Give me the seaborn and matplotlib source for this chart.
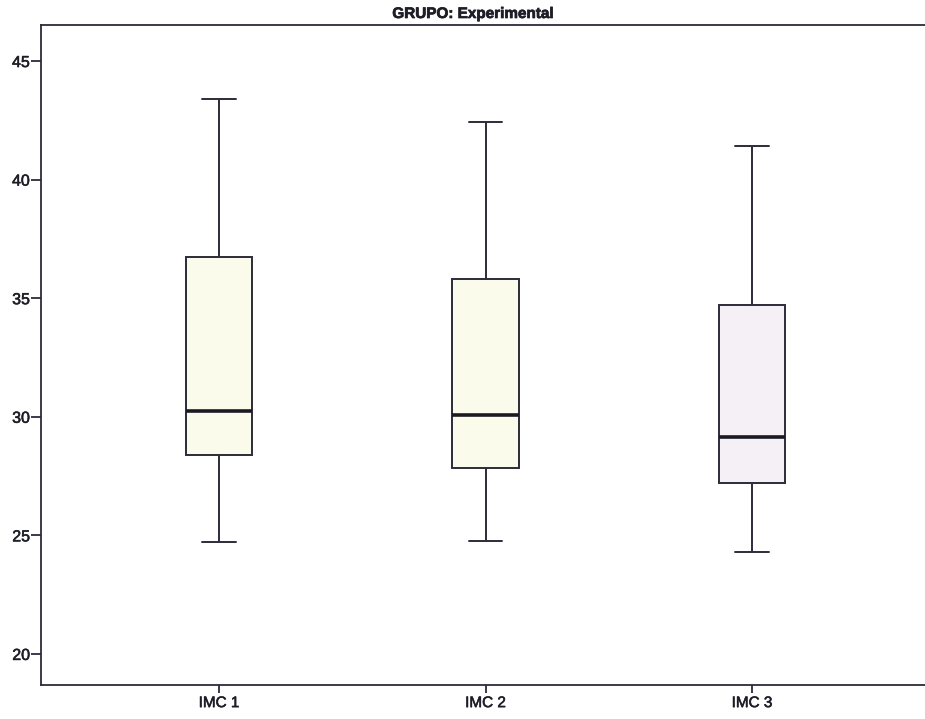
import numpy as np
import pandas as pd
import matplotlib
matplotlib.use("Agg")
import matplotlib.pyplot as plt
import matplotlib.patheffects as pe
import seaborn as sns

# Five-number summaries (min, Q1, median, Q3, max)
categories = ["IMC 1", "IMC 2", "IMC 3"]
imc1 = [24.72, 28.39, 30.24, 36.75, 43.40]
imc2 = [24.76, 27.83, 30.06, 35.80, 42.43]
imc3 = [24.30, 27.22, 29.16, 34.71, 41.42]
box_colors = ["#fbfbec", "#fbfbec", "#f5f0f5"]
yticks = [20, 25, 30, 35, 40, 45]

df = pd.DataFrame({
    "var": [categories[0]] * len(imc1) + [categories[1]] * len(imc2) + [categories[2]] * len(imc3),
    "value": imc1 + imc2 + imc3,
})

sns.set_theme(style="white")
plt.rcParams["font.family"] = ["Liberation Sans", "DejaVu Sans"]

line_col = "#2b2b3a"
txt_col = "#1e1e28"
fig = plt.figure(figsize=(9.25, 7.19), dpi=100)
ax = fig.add_axes([41 / 925, 1 - 685 / 719, (930 - 41) / 925, (685 - 25) / 719])

sns.boxplot(data=df, x="var", y="value", hue="var", palette=box_colors, legend=False,
            saturation=1, order=categories, width=0.25, whis=(0, 100), linecolor=line_col,
            linewidth=1.4, showfliers=False, ax=ax,
            medianprops={"linewidth": 2.6, "color": "#1a1a24"})

ax.set_xlim(-0.668, 2.668)
ax.set_ylim(18.69, 46.52)
ax.set_yticks(yticks)
ax.set_yticklabels([str(t) for t in yticks], fontsize=11.5)
ax.tick_params(axis="x", labelsize=11)
stroke = [pe.withStroke(linewidth=0.4, foreground=txt_col)]
for lab in ax.get_xticklabels() + ax.get_yticklabels():
    lab.set_color(txt_col)
    lab.set_path_effects(stroke)
ax.set_xlabel("")
ax.set_ylabel("")
ax.tick_params(axis="y", which="both", direction="out", length=7, width=1.3,
               color=line_col, left=True, pad=1)
ax.tick_params(axis="x", which="both", direction="out", length=6, width=1.3,
               color=line_col, bottom=True, pad=2)

for side in ["left", "bottom", "top"]:
    ax.spines[side].set_visible(True)
    ax.spines[side].set_color(line_col)
    ax.spines[side].set_linewidth(1.3)
ax.spines["right"].set_visible(False)

title = fig.text(473 / 925, 1 - 14 / 719, "GRUPO: Experimental", ha="center", va="center",
                 fontsize=11, fontweight="bold", color=txt_col)
title.set_path_effects([pe.withStroke(linewidth=0.5, foreground=txt_col)])

fig.savefig("out.png", dpi=100, facecolor="white")
